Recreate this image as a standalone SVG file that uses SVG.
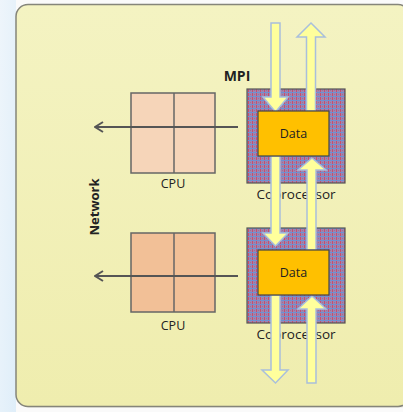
<svg xmlns="http://www.w3.org/2000/svg" width="403" height="412" viewBox="0 0 403 412">
  <defs>
    <linearGradient id="panelFill" x1="0" y1="0" x2="0" y2="1">
      <stop offset="0" stop-color="#f4f3c2"/>
      <stop offset="1" stop-color="#efedae"/>
    </linearGradient>
    <linearGradient id="stripFill" x1="0" y1="0" x2="1" y2="1">
      <stop offset="0" stop-color="#eef5fb"/>
      <stop offset="1" stop-color="#dfeef9"/>
    </linearGradient>
    <!-- red/blue plaid fill for the coprocessor blocks -->
    <pattern id="plaid" width="4" height="4" patternUnits="userSpaceOnUse">
      <rect width="4" height="4" fill="#9a86b4"/>
      <rect x="0" y="0" width="1" height="4" fill="#c94e6c"/>
      <rect x="0" y="0" width="4" height="1" fill="#6f8fd0"/>
      <rect x="2" y="2" width="1" height="1" fill="#b36a86"/>
    </pattern>
    <marker id="chevron" markerWidth="10" markerHeight="12" refX="9" refY="6" orient="auto" markerUnits="userSpaceOnUse">
      <path d="M1,1 L9,6 L1,11" fill="none" stroke="#555" stroke-width="2"/>
    </marker>
    <style>
      .cpuA { fill: #f6d5b9; stroke: #666; stroke-width: 1.5; }
      .cpuB { fill: #f2c097; stroke: #666; stroke-width: 1.5; }
      .grid { stroke: #666; stroke-width: 1.5; }
      .cop { fill: url(#plaid); stroke: #555; stroke-width: 1.2; }
      .data { fill: #ffc000; stroke: #444; stroke-width: 1.2; }
      .flow { fill: #ffff9c; stroke: #a9bfdc; stroke-width: 1.5; stroke-linejoin: miter; }
      .link { stroke: #555; stroke-width: 2; fill: none; }
      .lbl { font-family: "Open Sans", "Liberation Sans", sans-serif; fill: #222; }
    </style>
  </defs>

  <!-- page background -->
  <rect x="0" y="0" width="403" height="412" fill="#fafafa"/>
  <rect x="0" y="0" width="16" height="412" fill="url(#stripFill)"/>

  <!-- main panel -->
  <rect x="17.5" y="5.5" width="395" height="402" rx="12" fill="#cfcfc0" opacity="0.5"/>
  <rect x="16" y="4.5" width="394" height="402" rx="12" fill="url(#panelFill)" stroke="#85857a" stroke-width="1.5"/>

  <!-- labels -->
  <text class="lbl" x="237" y="81" font-size="14" font-weight="bold" text-anchor="middle">MPI</text>
  <text class="lbl" x="0" y="0" font-size="13" font-weight="bold" text-anchor="middle" transform="translate(99,207) rotate(-90)">Network</text>

  <!-- node 1: CPU -->
  <g id="cpu1">
    <rect class="cpuA" x="131" y="93" width="84" height="80"/>
    <line class="grid" x1="174" y1="93" x2="174" y2="173"/>
    <line class="grid" x1="131" y1="127" x2="215" y2="127"/>
    <text class="lbl" x="173" y="188" font-size="12.5" text-anchor="middle">CPU</text>
  </g>

  <!-- node 2: CPU -->
  <g id="cpu2">
    <rect class="cpuB" x="131" y="233" width="84" height="79"/>
    <line class="grid" x1="174" y1="233" x2="174" y2="312"/>
    <line class="grid" x1="131" y1="276" x2="215" y2="276"/>
    <text class="lbl" x="173" y="330" font-size="12.5" text-anchor="middle">CPU</text>
  </g>

  <!-- node 3: coprocessor -->
  <g id="cop1">
    <rect class="cop" x="247" y="89" width="98" height="94"/>
    <text class="lbl" x="296" y="199" font-size="13.5" text-anchor="middle">Coprocessor</text>
  </g>

  <!-- node 4: coprocessor -->
  <g id="cop2">
    <rect class="cop" x="247" y="228" width="98" height="95"/>
    <text class="lbl" x="296" y="339" font-size="13.5" text-anchor="middle">Coprocessor</text>
  </g>

  <!-- connectors -->
  <g id="connectors">
    <line class="link" x1="238" y1="127" x2="95" y2="127" marker-end="url(#chevron)"/>
    <line class="link" x1="238" y1="276" x2="95" y2="276" marker-end="url(#chevron)"/>

    <!-- block arrows: down (x=275.5) and up (x=311) -->
    <path class="flow" d="M271,23 H280 V97 H288 L275.5,112 L263,97 H271 Z"/>
    <path class="flow" d="M311,23 L325,37 H315.5 V111 H306.5 V37 H297 Z"/>

    <path class="flow" d="M271,156 H280 V233 H288 L275.5,246 L263,233 H271 Z"/>
    <path class="flow" d="M312,158 L326,170 H316 V250 H307 V170 H298 Z"/>

    <path class="flow" d="M271,295 H280 V370 H288 L275.5,383 L262,370 H271 Z"/>
    <path class="flow" d="M312,296 L326,309 H316 V383 H307 V309 H298 Z"/>
  </g>

  <!-- data blocks sit above the arrows -->
  <g id="data1">
    <rect class="data" x="258" y="111" width="71" height="45"/>
    <text class="lbl" x="293.5" y="138" font-size="12.5" text-anchor="middle">Data</text>
  </g>
  <g id="data2">
    <rect class="data" x="258" y="250" width="71" height="45"/>
    <text class="lbl" x="293.5" y="277" font-size="12.5" text-anchor="middle">Data</text>
  </g>
</svg>
